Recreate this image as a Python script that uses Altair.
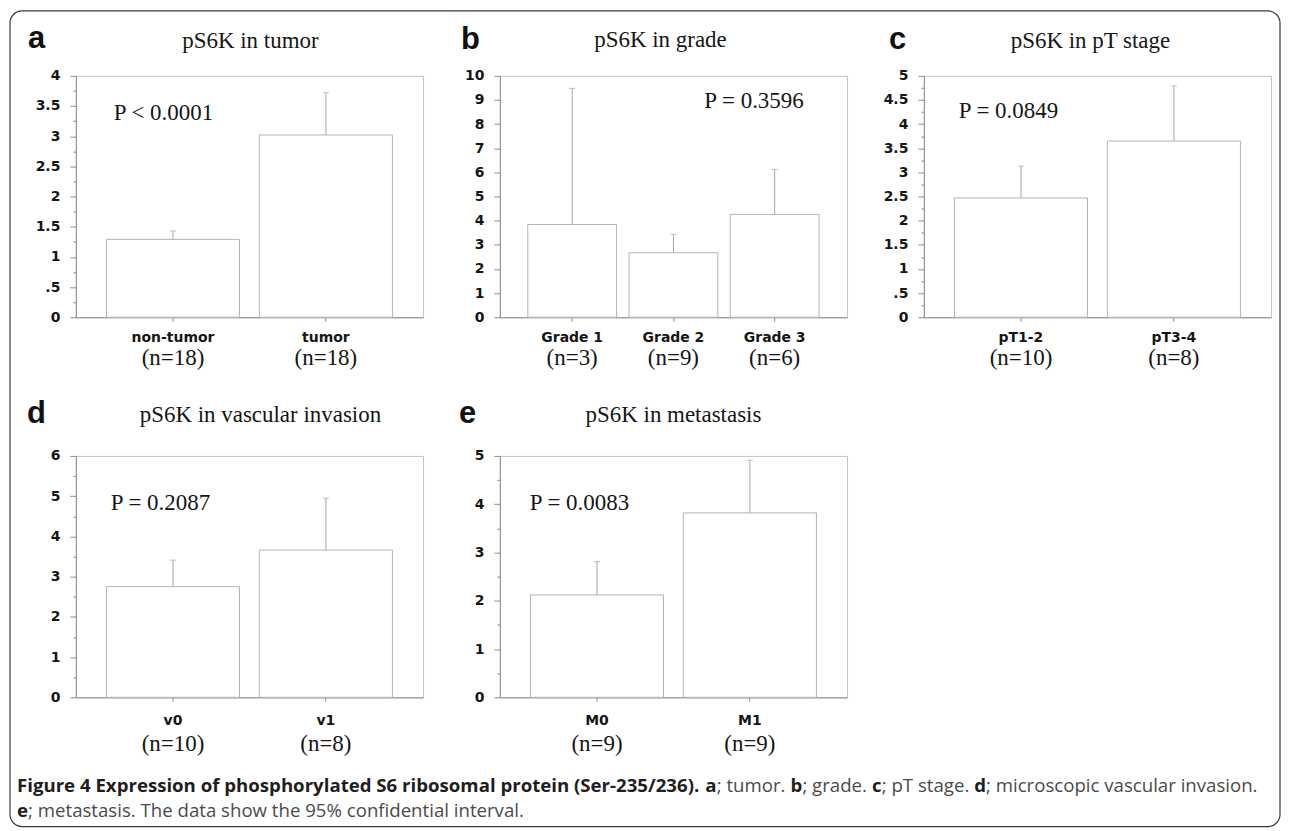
import altair as alt
import pandas as pd
import numpy as np

# ---------------- data ----------------
a_cats = ["non-tumor", "tumor"]
a_n = ["(n=18)", "(n=18)"]
a_mean = [1.29, 3.02]
a_upper = [1.43, 3.72]

b_cats = ["Grade 1", "Grade 2", "Grade 3"]
b_n = ["(n=3)", "(n=9)", "(n=6)"]
b_mean = [3.84, 2.67, 4.26]
b_upper = [9.48, 3.43, 6.12]

c_cats = ["pT1-2", "pT3-4"]
c_n = ["(n=10)", "(n=8)"]
c_mean = [2.47, 3.65]
c_upper = [3.13, 4.79]

d_cats = ["v0", "v1"]
d_n = ["(n=10)", "(n=8)"]
d_mean = [2.75, 3.66]
d_upper = [3.41, 4.95]

e_cats = ["M0", "M1"]
e_n = ["(n=9)", "(n=9)"]
e_mean = [2.12, 3.82]
e_upper = [2.81, 4.91]

titles = ["pS6K in tumor", "pS6K in grade", "pS6K in pT stage",
          "pS6K in vascular invasion", "pS6K in metastasis"]
letters = ["a", "b", "c", "d", "e"]
p_texts = ["P < 0.0001", "P = 0.3596", "P = 0.0849", "P = 0.2087", "P = 0.0083"]
p_levels = [3.26, 8.68, 4.13, 4.66, 3.88]

caption_line1 = [
    ("Figure 4 Expression of phosphorylated S6 ribosomal protein (Ser-235/236).", True),
    (" a", True),
    ("; tumor. ", False), ("b", True), ("; grade. ", False), ("c", True),
    ("; pT stage. ", False), ("d", True), ("; microscopic vascular invasion.", False),
]
caption_line2 = [("e", True), ("; metastasis. The data show the 95% confidential interval.", False)]

SERIF = "Liberation Serif"
SANS = "DejaVu Sans"

# ---------------- approximate Open Sans advance widths (per 1000 em) -------------
REG = {' ': 260, '.': 266, ';': 266, ',': 244, '%': 828, '(': 297, ')': 297, '-': 322,
       '/': 363, 'a': 556, 'b': 613, 'c': 476, 'd': 613, 'e': 561, 'f': 339, 'g': 548,
       'h': 614, 'i': 253, 'j': 253, 'k': 525, 'l': 253, 'm': 930, 'n': 614, 'o': 604,
       'p': 613, 'q': 613, 'r': 408, 's': 477, 't': 353, 'u': 614, 'v': 501, 'w': 778,
       'x': 524, 'y': 502, 'z': 477, 'T': 538}
BOLD = {' ': 260, '.': 306, ';': 306, '(': 350, ')': 350, '-': 322, '/': 433,
        'a': 608, 'b': 635, 'c': 518, 'd': 635, 'e': 595, 'f': 384, 'g': 557, 'h': 660,
        'i': 305, 'l': 305, 'm': 979, 'n': 660, 'o': 617, 'p': 635, 'r': 454, 's': 510,
        't': 413, 'u': 660, 'x': 564, 'y': 547, 'F': 553, 'E': 549, 'S': 539}


def text_w(s, bold):
    tab = BOLD if bold else REG
    tot = 0
    for ch in s:
        if ch.isdigit():
            tot += 572
        else:
            tot += tab.get(ch, 600 if bold else 560)
    return tot / 1000.0


line1_w = sum(text_w(s, b) for s, b in caption_line1)
CAP_SIZE = 1244.0 / line1_w


def caption_layers(segments, x0, baseline):
    layers = []
    x = x0
    one = pd.DataFrame({"t": [0]})
    for s, b in segments:
        lead = s[:len(s) - len(s.lstrip())]
        layers.append(
            alt.Chart(one).mark_text(
                text=s.strip(),
                font="Open Sans", fontSize=CAP_SIZE,
                fontWeight="bold" if b else "normal",
                color="#1e1e1e" if b else "#4a4a4a",
                align="left", baseline="alphabetic",
            ).encode(x=alt.value(x + text_w(lead, b) * CAP_SIZE), y=alt.value(baseline))
        )
        x += text_w(s, b) * CAP_SIZE
    return layers


def panel(cats, ns, means, uppers, ymax, major, minor, w, h, pin, pout,
          idx, letter_xy, title_xy, p_dx, lab_pad, n_dy, extra=None):
    df = pd.DataFrame({"cat": cats, "n": ns, "mean": means, "upper": uppers})
    step = minor if minor else major
    ticks = [round(v, 4) for v in np.arange(0, ymax + 1e-9, step)]
    minor_test = f"abs(datum.value/{major} - round(datum.value/{major})) > 0.01"
    label_expr = (f"({minor_test}) ? '' : (abs(datum.value - 0.5) < 0.001 ? '.5' : "
                  f"format(datum.value, '~g'))")

    x_axis = alt.Axis(labelAngle=0, tickSize=4, labelPadding=lab_pad,
                      labelBaseline="middle", labelFont=SANS, labelFontSize=14,
                      labelFontWeight="bold", labelColor="#151515",
                      domainColor="#8c8c8c", tickColor="#8c8c8c")
    x_scale = alt.Scale(paddingInner=pin, paddingOuter=pout)
    y_axis = alt.Axis(values=ticks, labelExpr=label_expr, grid=False,
                      tickSize={"condition": {"test": minor_test, "value": 3}, "value": 6},
                      labelPadding=10, labelOverlap=False, labelFont=SANS,
                      labelFontSize=14, labelFontWeight="bold", labelColor="#151515",
                      domainColor="#8c8c8c", tickColor="#8c8c8c")
    y_scale = alt.Scale(domain=[0, ymax], nice=False)

    def X():
        return alt.X("cat:N", sort=cats, title=None, scale=x_scale, axis=x_axis)

    base = alt.Chart(df)
    bars = base.mark_bar(fill="white", stroke="#b4b4b4", strokeWidth=1).encode(
        x=X(), y=alt.Y("mean:Q", title=None, scale=y_scale, axis=y_axis))
    err = base.mark_rule(color="#a6a6a6", strokeWidth=1).encode(
        x=X(), y=alt.Y("mean:Q", title=None, scale=y_scale, axis=y_axis), y2="upper:Q")
    cap = base.mark_tick(color="#a6a6a6", size=6, thickness=1, orient="horizontal").encode(
        x=X(), y=alt.Y("upper:Q", title=None, scale=y_scale, axis=y_axis))
    ntxt = base.mark_text(font=SERIF, fontSize=23, color="#151515", baseline="middle").encode(
        x=X(), y=alt.value(h + n_dy), text="n:N")

    one = pd.DataFrame({"t": [0]})
    let = alt.Chart(one).mark_text(text=letters[idx], font="Liberation Sans", fontWeight="bold",
                                   fontSize=31, color="#111", align="left",
                                   baseline="alphabetic").encode(
        x=alt.value(letter_xy[0]), y=alt.value(letter_xy[1]))
    tit = alt.Chart(one).mark_text(text=titles[idx], font=SERIF, fontSize=23, color="#151515",
                                   align="center", baseline="alphabetic").encode(
        x=alt.value(title_xy[0]), y=alt.value(title_xy[1]))
    ptx = alt.Chart(one).mark_text(text=p_texts[idx], font=SERIF, fontSize=23, color="#151515",
                                   align="left", baseline="alphabetic").encode(
        x=alt.value(p_dx),
        y=alt.Y(datum=p_levels[idx], type="quantitative", title=None, scale=y_scale, axis=y_axis))
    layers = [bars, err, cap, ntxt, let, tit, ptx]
    if extra:
        layers += extra
    return alt.layer(*layers).properties(width=w, height=h)


one = pd.DataFrame({"t": [0]})
border = alt.Chart(one).mark_rect(filled=False, stroke="#3a3a3a", strokeWidth=1.2,
                                  cornerRadius=12).encode(
    x=alt.value(-66), x2=alt.value(1207), y=alt.value(-65), y2=alt.value(752.5))

cap_layers = caption_layers(caption_line1, -59, 337) + caption_layers(caption_line2, -59, 362)

pa = panel(a_cats, a_n, a_mean, a_upper, 4, 0.5, 0.25, 348, 242, 0.13, 0.2, 0,
           (-48, -28), (175, -27.5), 38, 16, 41, extra=[border])
pb = panel(b_cats, b_n, b_mean, b_upper, 10, 1, None, 348, 242, 0.123, 0.276, 1,
           (-39, -27), (161, -29), 205, 16, 41)
pc = panel(c_cats, c_n, c_mean, c_upper, 5, 0.5, 0.25, 348, 242, 0.13, 0.2, 2,
           (-35, -27), (167, -28), 35, 16, 41)
pd_ = panel(d_cats, d_n, d_mean, d_upper, 6, 1, 0.5, 348, 242, 0.13, 0.2, 3,
            (-49, -33), (185, -33.5), 35, 19, 47, extra=cap_layers)
pe = panel(e_cats, e_n, e_mean, e_upper, 5, 1, 0.5, 348, 242, 0.13, 0.2, 4,
           (-41, -33), (174, -33.5), 30, 19, 47)

chart = alt.concat(pa, pb, pc, pd_, pe, columns=3,
                   spacing={"row": 139, "column": 77}, bounds="flush").properties(
    padding={"left": 0, "top": 0, "right": 0, "bottom": 0},
    background="white",
).configure_view(stroke="#c4c4c4", strokeWidth=1)

chart.save("out.html", embed_options={"renderer": "svg", "actions": False})
